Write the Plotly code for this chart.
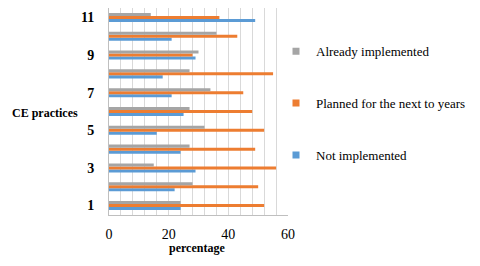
import plotly.graph_objects as go

categories = [1, 2, 3, 4, 5, 6, 7, 8, 9, 10, 11]
not_implemented = [24, 22, 29, 24, 16, 25, 21, 18, 29, 21, 49]
planned = [52, 50, 56, 49, 52, 48, 45, 55, 28, 43, 37]
already = [24, 28, 15, 27, 32, 27, 34, 27, 30, 36, 14]
y_ticks = [1, 3, 5, 7, 9, 11]
x_ticks = [0, 20, 40, 60]

series = [
    ("Not implemented", not_implemented, "#5B9BD5", 3),
    ("Planned for the next to years", planned, "#ED7D31", 2),
    ("Already implemented", already, "#A5A5A5", 1),
]

SERIF = "Liberation Serif"
fig = go.Figure()
for name, vals, color, rank in series:
    fig.add_trace(go.Bar(y=categories, x=vals, orientation="h", name=name,
                         marker=dict(color=color, line=dict(width=0)), showlegend=False))
for name, vals, color, rank in series:
    fig.add_trace(go.Scatter(x=[None], y=[None], mode="markers", name=name,
                             marker=dict(symbol="square", size=7, color=color),
                             legendgroup=name, legendrank=rank, hoverinfo="skip"))

fig.update_layout(
    width=480, height=266,
    margin=dict(l=109, r=192, t=8, b=51, autoexpand=False),
    paper_bgcolor="white", plot_bgcolor="white",
    barmode="group", bargap=0.52, bargroupgap=0,
    font=dict(family=SERIF, color="#000000", size=13),
    xaxis=dict(range=[0, 60], tickvals=x_ticks, showgrid=True, gridcolor="#D9D9D9", gridwidth=1,
               minor=dict(dtick=4, showgrid=True, gridcolor="#D9D9D9"),
               showline=True, linecolor="#BFBFBF", linewidth=1, zeroline=False,
               tickfont=dict(family=SERIF, size=14), ticks="", ticklabelstandoff=6,
               automargin=False),
    yaxis=dict(range=[0.5, 11.5], tickvals=y_ticks, showgrid=False,
               showline=True, linecolor="#BFBFBF", linewidth=1, zeroline=False,
               tickfont=dict(family=SERIF, size=14, weight="bold"), ticks="", ticklabelstandoff=11,
               automargin=False),
    legend=dict(xref="container", yref="container", x=0.575, y=0.864, xanchor="left", yanchor="top",
                traceorder="grouped", tracegroupgap=32, font=dict(family=SERIF, size=13),
                itemwidth=30, bgcolor="rgba(0,0,0,0)", maxheight=260),
    annotations=[
        dict(text="CE practices", xref="paper", yref="paper", x=-0.358, y=0.493, xanchor="center",
             yanchor="middle", showarrow=False, font=dict(family=SERIF, size=12, weight="bold")),
        dict(text="percentage", xref="paper", yref="paper", x=0.49, y=-0.16, xanchor="center",
             yanchor="middle", showarrow=False, font=dict(family=SERIF, size=12, weight="bold")),
    ],
)
fig.write_html("out.html", config={"displayModeBar": False},
               post_script="document.body.style.margin='0';")
